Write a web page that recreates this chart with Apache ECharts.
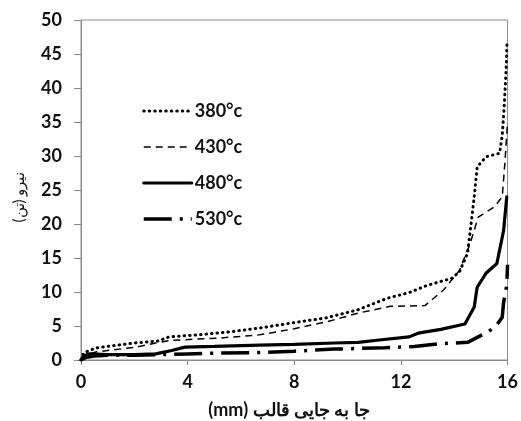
<!DOCTYPE html>
<html>
<head>
<meta charset="utf-8">
<script src="https://cdn.jsdelivr.net/npm/echarts@6/dist/echarts.min.js"></script>
<style>html,body{margin:0;padding:0;background:#fff}#c{width:521px;height:421px}</style>
</head>
<body>
<div id="c"></div>
<script>
var seriesNames = ['380°c', '430°c', '480°c', '530°c'];
var xTicks = [0, 4, 8, 12, 16];
var yTicks = [0, 5, 10, 15, 20, 25, 30, 35, 40, 45, 50];

var x380 = [0, 0.1, 0.3, 0.6, 1.2, 2.0, 2.9, 3.3, 4.4, 5.5, 6.7, 8.0, 9.2, 10.4, 11.5, 12.3, 13.0, 13.9, 14.2, 14.5, 14.6, 14.75, 14.86, 15.2, 15.7, 15.8, 15.87, 15.95, 15.98];
var y380 = [0, 1.0, 1.4, 1.8, 2.1, 2.5, 2.8, 3.4, 3.7, 4.1, 4.7, 5.5, 6.2, 7.4, 9.1, 9.9, 11.0, 12.0, 13.0, 15.7, 19.0, 24.0, 28.4, 29.9, 30.4, 33.0, 37.0, 43.0, 47.0];

var x430 = [0, 0.2, 0.6, 1.2, 2.1, 2.8, 3.4, 5.1, 6.7, 8.0, 9.2, 10.4, 11.6, 12.9, 13.6, 14.2, 14.6, 14.9, 15.5, 15.8, 15.9, 16.0];
var y430 = [0, 0.8, 1.2, 1.5, 1.9, 2.5, 2.9, 3.2, 3.7, 4.6, 5.6, 6.9, 7.9, 8.0, 10.3, 13.2, 17.2, 21.0, 22.5, 24.0, 29.0, 35.0];

var x480 = [0, 0.1, 0.3, 1.0, 2.0, 2.8, 3.4, 3.9, 5.0, 6.7, 8.0, 9.5, 10.4, 11.1, 12.3, 12.7, 13.5, 14.4, 14.75, 14.86, 15.2, 15.6, 15.85, 15.97];
var y480 = [0, 0.6, 0.9, 0.8, 0.8, 0.9, 1.4, 1.9, 2.0, 2.2, 2.3, 2.5, 2.6, 2.9, 3.4, 4.0, 4.5, 5.3, 7.8, 10.7, 12.8, 14.2, 19.0, 24.0];

var x530 = [0, 0.2, 0.5, 1.0, 2.0, 3.0, 4.0, 5.0, 6.7, 8.0, 9.5, 11.4, 12.5, 13.5, 14.5, 14.9, 15.3, 15.6, 15.8, 15.85, 15.97, 16.0];
var y530 = [0, 0.4, 0.6, 0.7, 0.7, 0.8, 0.9, 1.0, 1.1, 1.3, 1.6, 1.8, 2.0, 2.4, 2.6, 3.4, 4.2, 5.2, 6.3, 8.4, 11.0, 14.0];

var xTitle = '\u2067جا به جایی قالب (mm)\u2069';
var yTitle = '\u2067نیرو (تن)\u2069';

function pairs(xs, ys) { return xs.map(function (x, i) { return [x, ys[i]]; }); }

var styles = [
  { type: [0.5, 5], width: 3, cap: 'round' },
  { type: [7, 5], width: 1.5, cap: 'butt' },
  { type: 'solid', width: 3.2, cap: 'round' },
  { type: [28, 8, 3, 8], width: 3.5, cap: 'butt' }
];
var dataSets = [pairs(x380, y380), pairs(x430, y430), pairs(x480, y480), pairs(x530, y530)];

var chart = echarts.init(document.getElementById('c'), null, { renderer: 'canvas' });
var fontFam = 'Lato, "Open Sans", sans-serif';
chart.setOption({
  animation: false,
  backgroundColor: '#fff',
  grid: { left: 81, right: 10, top: 20, bottom: 61, show: true, borderColor: '#8a8a8a', borderWidth: 1, backgroundColor: 'transparent' },
  legend: {
    orient: 'vertical', left: 142, top: 102, padding: 0, itemWidth: 48, itemHeight: 14, itemGap: 18,
    textStyle: { fontFamily: fontFam, fontWeight: 'bold', fontSize: 18, color: '#111', padding: [0, 0, 0, -2] },
    lineStyle: { width: 'inherit', type: 'inherit', cap: 'inherit' },
    itemStyle: { opacity: 0, borderWidth: 0 },
    data: seriesNames
  },
  xAxis: {
    type: 'value', min: 0, max: 16, interval: 4,
    axisLine: { lineStyle: { color: '#8a8a8a', width: 1 } },
    axisTick: { show: true, length: 5, lineStyle: { color: '#8a8a8a' } },
    axisLabel: { margin: 13, fontFamily: fontFam, fontWeight: 'bold', fontSize: 18, color: '#111',
      customValues: xTicks },
    splitLine: { show: false }
  },
  yAxis: {
    type: 'value', min: 0, max: 50, interval: 5,
    axisLine: { show: true, lineStyle: { color: '#8a8a8a', width: 1 } },
    axisTick: { show: true, length: 7, lineStyle: { color: '#8a8a8a' } },
    axisLabel: { margin: 19, fontFamily: fontFam, fontWeight: 'bold', fontSize: 18, color: '#111',
      customValues: yTicks },
    splitLine: { show: false }
  },
  graphic: [
    { type: 'text', x: 289, y: 410, style: { text: xTitle, font: 'bold 18px ' + fontFam, fill: '#111', align: 'center', verticalAlign: 'middle' } },
    { type: 'text', x: 19, y: 197, rotation: Math.PI / 2, style: { text: yTitle, font: '15px ' + fontFam, fill: '#111', align: 'center', verticalAlign: 'middle' } }
  ],
  series: seriesNames.map(function (n, i) {
    return {
      name: n, type: 'line', data: dataSets[i], symbol: 'none', smooth: false,
      lineStyle: { color: '#000', width: styles[i].width, type: styles[i].type, cap: styles[i].cap },
      itemStyle: { color: '#000' }
    };
  })
});
</script>
</body>
</html>
